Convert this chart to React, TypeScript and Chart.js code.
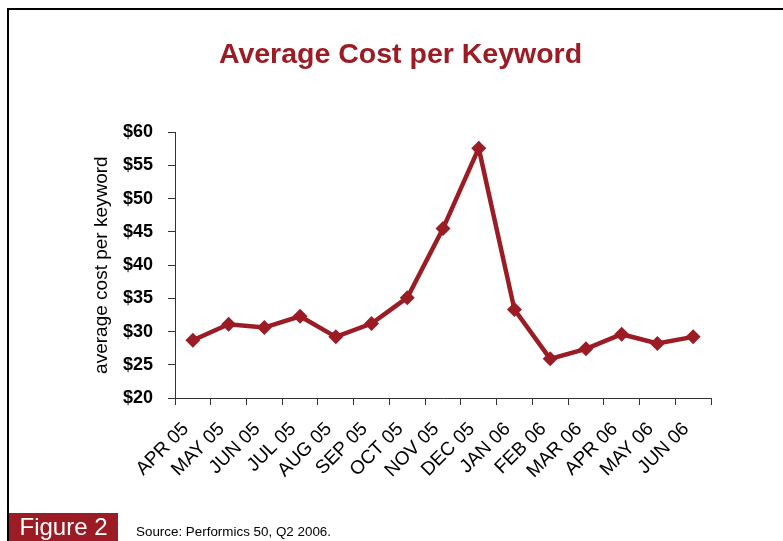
import React, { useEffect, useRef } from "react";
import { Chart, registerables } from "chart.js";

Chart.register(...registerables);

const categories = [
  "APR 05", "MAY 05", "JUN 05", "JUL 05", "AUG 05", "SEP 05", "OCT 05", "NOV 05",
  "DEC 05", "JAN 06", "FEB 06", "MAR 06", "APR 06", "MAY 06", "JUN 06",
];
const avgCost = [28.7, 31.1, 30.6, 32.3, 29.2, 31.2, 35.1, 45.5, 57.6, 33.3, 25.9, 27.4, 29.6, 28.2, 29.2];
const yMin = 20;
const yMax = 60;
const yStep = 5;

const RED = "#9B1C24";
const FONT = "'Liberation Sans', Arial, Helvetica, sans-serif";

export default function App() {
  const ref = useRef<HTMLCanvasElement>(null);

  useEffect(() => {
    if (!ref.current) return;
    const chart = new Chart(ref.current, {
      type: "line",
      data: {
        labels: categories,
        datasets: [
          {
            data: avgCost,
            borderColor: RED,
            backgroundColor: RED,
            borderWidth: 4.5,
            pointStyle: "rectRot",
            pointRadius: 7.5,
            pointBackgroundColor: RED,
            pointBorderColor: RED,
            pointBorderWidth: 0,
            tension: 0,
          },
        ],
      },
      options: {
        animation: false,
        responsive: false,
        maintainAspectRatio: false,
        layout: { padding: { left: 90, right: 72, top: 0, bottom: 0 } },
        plugins: {
          legend: { display: false },
          tooltip: { enabled: false },
          title: {
            display: true,
            text: "Average Cost per Keyword",
            color: RED,
            font: { family: FONT, size: 28.5, weight: "bold" },
            padding: { top: 38, bottom: 60 },
          },
        },
        scales: {
          x: {
            type: "category",
            offset: true,
            grid: {
              display: true,
              offset: true,
              drawOnChartArea: false,
              drawTicks: true,
              tickLength: 7,
              color: "#333",
              lineWidth: 1,
            },
            border: { display: true, color: "#333", width: 1 },
            ticks: {
              color: "#000",
              font: { family: FONT, size: 19 },
              minRotation: 45,
              maxRotation: 45,
              autoSkip: false,
              padding: 13,
              labelOffset: -7,
            },
            afterFit: (scale: any) => {
              scale.height = 143;
            },
          },
          y: {
            min: yMin,
            max: yMax,
            grid: {
              display: true,
              drawOnChartArea: false,
              drawTicks: true,
              tickLength: 7,
              color: "#333",
              lineWidth: 1,
            },
            border: { display: true, color: "#333", width: 1 },
            ticks: {
              stepSize: yStep,
              color: "#000",
              font: { family: FONT, size: 18, weight: "bold" },
              padding: 15,
              callback: (v: any) => "$" + v,
            },
            title: {
              display: true,
              text: "average cost per keyword",
              color: "#000",
              font: { family: FONT, size: 19 },
              padding: { top: 0, bottom: 0 },
            },
            afterFit: (scale: any) => {
              scale.width = 85;
            },
          },
        },
      },
    });
    return () => chart.destroy();
  }, []);

  return (
    <div style={{ position: "absolute", left: 0, top: 0, width: 783, height: 541, overflow: "hidden", background: "#fff" }}>
      <canvas ref={ref} width={783} height={541} style={{ position: "absolute", left: 0, top: 0, width: 783, height: 541 }} />
      <div
        style={{
          position: "absolute",
          left: 7,
          top: 8,
          width: 800,
          height: 560,
          borderTop: "2px solid #000",
          borderLeft: "2px solid #000",
          boxSizing: "border-box",
          pointerEvents: "none",
        }}
      />
      <div
        style={{
          position: "absolute",
          left: 9,
          top: 513,
          width: 109,
          height: 28,
          background: RED,
          color: "#fff",
          fontFamily: FONT,
          fontSize: 24,
          lineHeight: "28px",
          textAlign: "center",
        }}
      >
        Figure 2
      </div>
      <div
        style={{
          position: "absolute",
          left: 136,
          top: 524,
          fontFamily: FONT,
          fontSize: 13.4,
          lineHeight: "16px",
          color: "#000",
          whiteSpace: "nowrap",
        }}
      >
        Source: Performics 50, Q2 2006.
      </div>
    </div>
  );
}
